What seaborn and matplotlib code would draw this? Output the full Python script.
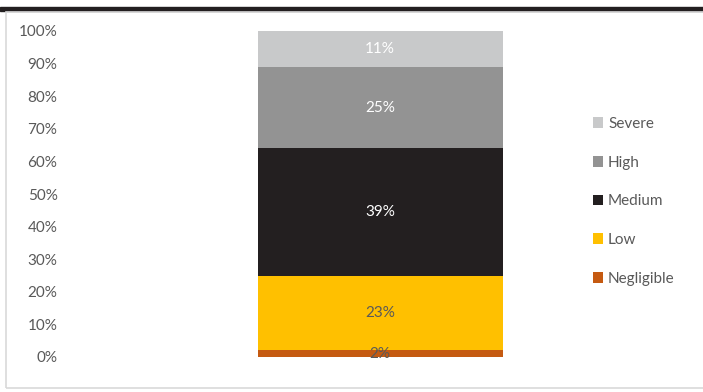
import matplotlib
matplotlib.use("Agg")
import matplotlib.pyplot as plt
import seaborn as sns
from matplotlib.patches import Rectangle, Patch

categories = ["Negligible", "Low", "Medium", "High", "Severe"]
values = [2, 23, 39, 25, 11]
colors = ["#c55a11", "#ffc000", "#231f20", "#939393", "#c8c9ca"]
label_colors = ["#595959", "#595959", "white", "white", "white"]
yticks = [0, 10, 20, 30, 40, 50, 60, 70, 80, 90, 100]
ytick_labels = [f"{t}%" for t in yticks]

sns.set_theme(style="white")
plt.rcParams["font.family"] = ["Lato", "DejaVu Sans"]

W, H = 703, 392
fig = plt.figure(figsize=(W / 100, H / 100), dpi=100)

# top dark band and outer border
fig.patches.append(Rectangle((0, 1 - 11 / H), 1, 4 / H, transform=fig.transFigure,
                             color="#231f20", zorder=0))
fig.patches.append(Rectangle((6 / W, 4 / H), 1 - 6 / W + 0.01, (388 - 12) / H,
                             transform=fig.transFigure, fill=False,
                             edgecolor="#d9d9d9", linewidth=1.2, zorder=0))

ax_left, ax_right = 70, 690
ax_top, ax_bottom = 31, 357
ax = fig.add_axes([ax_left / W, 1 - ax_bottom / H, (ax_right - ax_left) / W,
                   (ax_bottom - ax_top) / H])
ax.patch.set_alpha(0)

bottom = 0
for cat, val, col, lc in zip(categories, values, colors, label_colors):
    sns.barplot(x=[""], y=[val], bottom=bottom, color=col, width=0.8,
                saturation=1, ax=ax, linewidth=0, edgecolor="none")
    ax.text(0, bottom + val / 2, f"{val}%", ha="center", va="center",
            color=lc, fontsize=11)
    bottom += val

if ax.get_legend() is not None:
    ax.get_legend().remove()

bar_px = 245
half = 0.8 * (ax_right - ax_left) / bar_px / 2
ax.set_xlim(-half, half)
ax.set_ylim(0, 100)
ax.set_yticks(yticks)
ax.set_yticklabels(ytick_labels, color="#595959", fontsize=11)
ax.set_xticks([])
ax.tick_params(axis="y", length=0, pad=9)
for s in ax.spines.values():
    s.set_visible(False)
ax.set_xlabel("")
ax.set_ylabel("")

handles = [Patch(facecolor=c, edgecolor="none") for c in colors[::-1]]
leg = fig.legend(handles, categories[::-1], loc="upper left",
                 bbox_to_anchor=(579 / W, 1 - 103 / H), frameon=False,
                 fontsize=11, handlelength=0.7, handleheight=0.7,
                 handletextpad=0.3, labelspacing=1.62, labelcolor="#595959")

fig.savefig("out.png", dpi=100)
